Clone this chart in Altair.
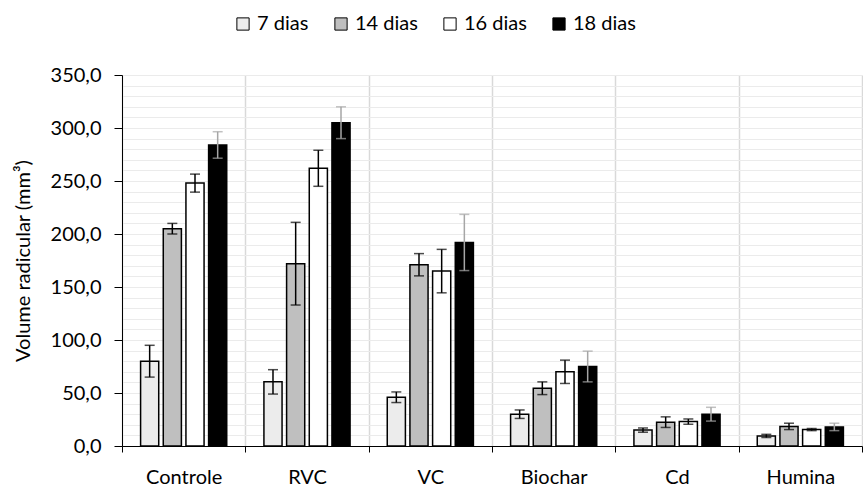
import altair as alt
import pandas as pd

# Root volume by treatment and sampling day (mean and standard deviation)
groups = ["Controle", "RVC", "VC", "Biochar", "Cd", "Humina"]
series = ["7 dias", "14 dias", "16 dias", "18 dias"]

mean_7 = [80.0, 60.5, 46.0, 30.0, 15.0, 9.5]
mean_14 = [205.0, 172.0, 171.0, 54.5, 22.5, 18.5]
mean_16 = [248.0, 262.0, 165.0, 70.0, 23.0, 15.5]
mean_18 = [284.0, 305.0, 192.0, 75.0, 30.0, 18.0]

sd_7 = [15.0, 11.5, 5.0, 4.0, 2.0, 1.5]
sd_14 = [5.0, 39.0, 10.5, 6.0, 5.0, 3.0]
sd_16 = [8.5, 17.0, 20.5, 11.0, 2.5, 1.0]
sd_18 = [12.5, 15.0, 26.5, 14.5, 6.5, 3.5]

fills = ["#ececec", "#bfbfbf", "#ffffff", "#000000"]
err_colors = ["#000000", "#000000", "#000000", "#a6a6a6"]

y_ticks = [0, 50, 100, 150, 200, 250, 300, 350]
y_minor = list(range(0, 351, 10))

FONT = "Lato"

rows = []
caps = []
for s, means, sds, ec in zip(series, [mean_7, mean_14, mean_16, mean_18],
                             [sd_7, sd_14, sd_16, sd_18], err_colors):
    for g, m, d in zip(groups, means, sds):
        rows.append({"grupo": g, "serie": s, "valor": m,
                     "lo": m - d, "hi": m + d, "ecor": ec})
        caps.append({"grupo": g, "serie": s, "y": m - d, "ecor": ec})
        caps.append({"grupo": g, "serie": s, "y": m + d, "ecor": ec})
df = pd.DataFrame(rows)
df_caps = pd.DataFrame(caps)

y_scale = alt.Scale(domain=[0, 350], nice=False, zero=True)
x_scale = alt.Scale(domain=groups, paddingInner=0, paddingOuter=0)
off_scale = alt.Scale(domain=series, paddingInner=0.2, paddingOuter=0.82)

x_axis = alt.Axis(
    title=None, tickBand="extent", grid=True, gridColor="#d9d9d9",
    gridWidth=1.5, domainColor="#000000", domainWidth=1,
    tickColor="#000000", tickSize=6, tickWidth=1, labelAngle=0,
    labelFont=FONT, labelFontSize=20, labelColor="#000000",
    labelPadding=15,
)
x_enc = alt.X("grupo:N", scale=x_scale, sort=groups, axis=x_axis)
off_enc = alt.XOffset("serie:N", scale=off_scale, sort=series)

bars = alt.Chart(df).mark_bar(stroke="#000000", strokeWidth=1.5).encode(
    x=x_enc,
    xOffset=off_enc,
    y=alt.Y("valor:Q", scale=y_scale, axis=alt.Axis(
        values=y_minor, orient="right", grid=True, gridColor="#ebebeb",
        gridWidth=1, labels=False, ticks=False, domain=False, title=None)),
    fill=alt.Fill("serie:N", sort=series,
                  scale=alt.Scale(domain=series, range=fills),
                  legend=alt.Legend(
                      title=None, orient="none", direction="horizontal",
                      legendX=111, legendY=-61, columns=4,
                      symbolType="square", symbolSize=150,
                      symbolStrokeColor="#000000", symbolStrokeWidth=1,
                      labelFont=FONT, labelFontSize=20,
                      labelColor="#000000", labelOffset=4,
                      columnPadding=22, padding=0)),
)

rules = alt.Chart(df).mark_rule(strokeWidth=1.5).encode(
    x=x_enc,
    xOffset=off_enc,
    y=alt.Y("lo:Q", scale=y_scale, axis=alt.Axis(
        values=y_ticks, orient="left", grid=False,
        labelExpr="replace(format(datum.value, '.1f'), '.', ',')",
        labelFont=FONT, labelFontSize=20, labelColor="#000000",
        labelPadding=13, tickSize=8, tickColor="#000000",
        domainColor="#000000", domainWidth=1,
        title="Volume radicular (mm³)", titleFont=FONT,
        titleFontSize=20, titleFontWeight="normal", titleColor="#000000",
        titlePadding=17)),
    y2="hi:Q",
    color=alt.Color("ecor:N", scale=None),
)

cap_marks = alt.Chart(df_caps).mark_tick(size=10, thickness=1.5).encode(
    x=x_enc,
    xOffset=off_enc,
    y=alt.Y("y:Q", scale=y_scale, axis=None),
    color=alt.Color("ecor:N", scale=None),
)

chart = alt.layer(bars, rules, cap_marks).resolve_axis(
    y="independent"
).properties(
    width=740, height=371,
    autosize=alt.AutoSizeParams(type="none"),
    padding={"left": 122, "top": 75, "right": 1, "bottom": 40},
    background="#ffffff",
).configure_view(stroke=None)

chart.save("out.html", embed_options={"renderer": "svg", "actions": False})
